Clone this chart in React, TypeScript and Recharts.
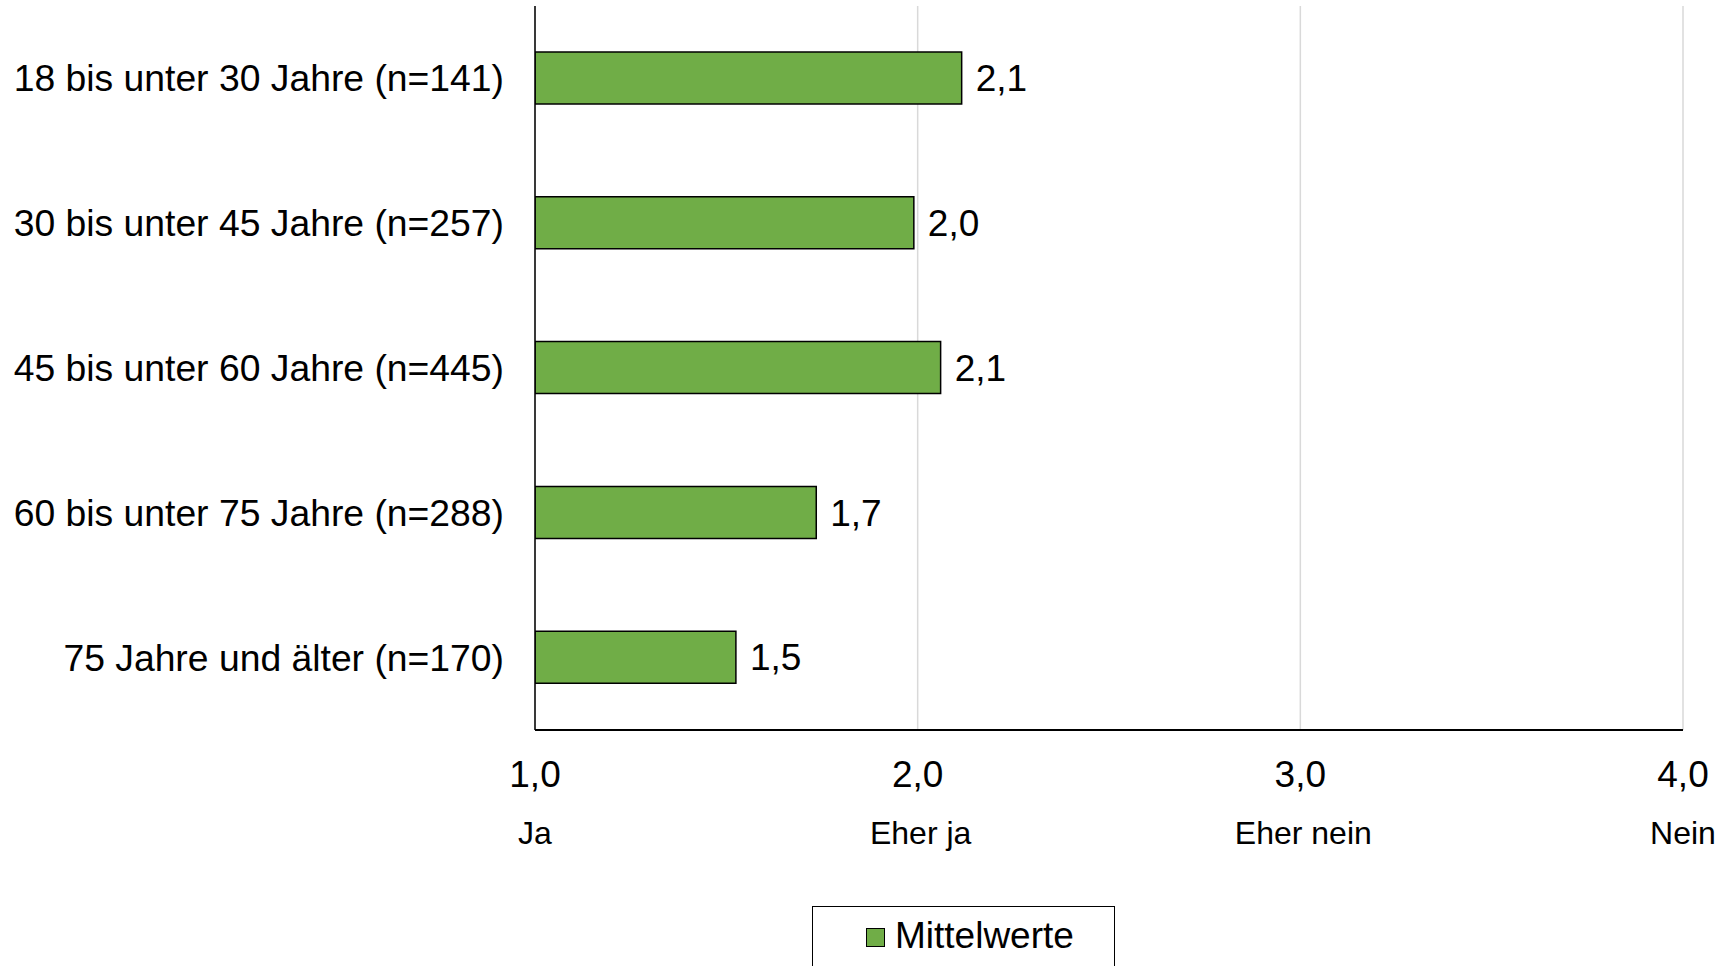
import React from 'react'
import {
  Bar,
  BarChart,
  CartesianGrid,
  LabelList,
  Legend,
  XAxis,
  YAxis,
} from 'recharts'

// Altersgruppen und Mittelwerte (1 = Ja ... 4 = Nein)
const groups = [
  '18 bis unter 30 Jahre (n=141)',
  '30 bis unter 45 Jahre (n=257)',
  '45 bis unter 60 Jahre (n=445)',
  '60 bis unter 75 Jahre (n=288)',
  '75 Jahre und älter (n=170)',
]
const means = [2.115, 1.99, 2.06, 1.735, 1.525]
const scaleTicks = [1, 2, 3, 4]
const scaleLabels = ['Ja', 'Eher ja', 'Eher nein', 'Nein']
const seriesName = 'Mittelwerte'

const FONT = '"Liberation Sans", Arial, sans-serif'
const GREEN = '#70AD47'

const fmt = (v: number) => Number(v).toFixed(1).replace('.', ',')

const data = groups.map((name, i) => ({ name, value: means[i] }))

const XTick = (props: any) => {
  const { x, y, payload, index } = props
  return (
    <g>
      <text x={x} y={y + 49} textAnchor="middle" fontSize={37} fill="#000" fontFamily={FONT}>
        {fmt(payload.value)}
      </text>
      <text
        x={x}
        y={y + 106}
        dx={index === 1 || index === 2 ? 3 : 0}
        textAnchor="middle"
        fontSize={32}
        fill="#000"
        fontFamily={FONT}
      >
        {scaleLabels[index]}
      </text>
    </g>
  )
}

const YTick = (props: any) => {
  const { x, y, payload } = props
  return (
    <text
      x={x - 23}
      y={y}
      dy={13}
      textAnchor="end"
      fontSize={37.3}
      fill="#000"
      fontFamily={FONT}
    >
      {payload.value}
    </text>
  )
}

const LegendBox = () => (
  <div
    style={{
      boxSizing: 'border-box',
      width: 303,
      height: 80,
      border: '1.5px solid #000',
      background: '#fff',
      position: 'relative',
      fontFamily: FONT,
    }}
  >
    <div
      style={{
        position: 'absolute',
        left: 53,
        top: 21,
        width: 19,
        height: 19,
        boxSizing: 'border-box',
        background: GREEN,
        border: '1.5px solid #000',
      }}
    />
    <div
      style={{
        position: 'absolute',
        left: 82,
        top: 10,
        fontSize: 37,
        lineHeight: '37px',
        color: '#000',
        whiteSpace: 'nowrap',
      }}
    >
      {seriesName}
    </div>
  </div>
)

export default function App() {
  return (
    <div
      style={{
        position: 'absolute',
        left: 0,
        top: 0,
        width: 1731,
        height: 966,
        overflow: 'hidden',
        background: '#fff',
      }}
    >
      <BarChart
        width={1731}
        height={966}
        data={data}
        layout="vertical"
        margin={{ top: 6, right: 48, bottom: 0, left: 0 }}
      >
        <CartesianGrid horizontal={false} stroke="#d9d9d9" strokeWidth={1.5} />
        <XAxis
          type="number"
          domain={[1, 4]}
          ticks={scaleTicks}
          interval={0}
          height={236}
          tickLine={false}
          axisLine={{ stroke: '#000', strokeWidth: 2 }}
          tick={<XTick />}
          allowDataOverflow
        />
        <YAxis
          type="category"
          dataKey="name"
          width={535}
          tickLine={false}
          axisLine={{ stroke: '#000', strokeWidth: 1.5 }}
          tick={<YTick />}
          interval={0}
        />
        <Legend
          layout="vertical"
          align="center"
          verticalAlign="middle"
          wrapperStyle={{ left: 812, top: 906, width: 303, height: 80 }}
          content={<LegendBox />}
        />
        <Bar
          dataKey="value"
          name={seriesName}
          fill={GREEN}
          stroke="#000"
          strokeWidth={1.5}
          barSize={52}
          isAnimationActive={false}
        >
          <LabelList
            dataKey="value"
            position="right"
            offset={14}
            formatter={(v: any) => fmt(v)}
            fill="#000"
            fontSize={37}
            fontFamily={FONT}
          />
        </Bar>
      </BarChart>
    </div>
  )
}
